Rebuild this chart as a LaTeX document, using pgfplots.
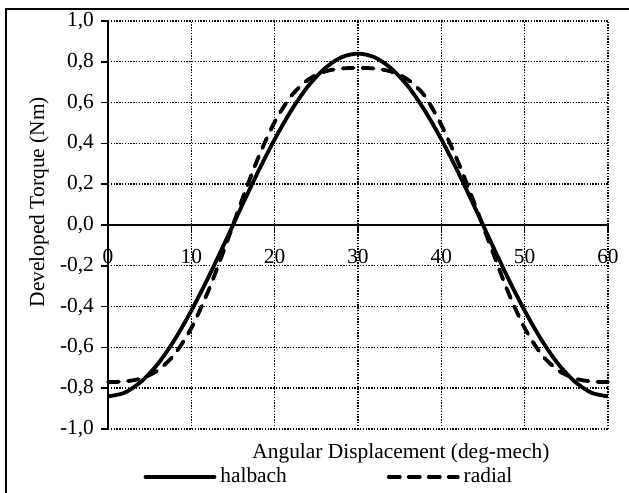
\documentclass[border=0pt]{standalone}
\usepackage{fontspec}
\setmainfont{Liberation Serif}
\usepackage{pgfplots}
\pgfplotsset{compat=1.18}
\newcommand{\chfont}{\fontsize{10.7}{12.8}\selectfont}
\begin{document}
\begin{tikzpicture}[font=\chfont]
\path[use as bounding box] (0,0) rectangle (314.5pt,246.5pt);
\draw[line width=1pt, black] (3pt,0) -- (3pt,242pt) -- (314.5pt,242pt);
\begin{axis}[
  at={(54pt,32pt)}, anchor=south west,
  width=250pt, height=204pt, scale only axis,
  xmin=0, xmax=60, ymin=-1, ymax=1,
  axis x line=middle, axis y line=left,
  hide obscured x ticks=false, hide obscured y ticks=false,
  axis line style={-, line width=0.9pt, black},
  xtick={0,10,20,30,40,50,60},
  xticklabels={0,10,20,30,40,50,60},
  ytick={-1,-0.8,-0.6,-0.4,-0.2,0,0.2,0.4,0.6,0.8,1},
  yticklabels={{-1,0},{-0,8},{-0,6},{-0,4},{-0,2},{0,0},{0,2},{0,4},{0,6},{0,8},{1,0}},
  grid=major,
  major grid style={black, line width=0.7pt, dash pattern=on 0.7pt off 0.7pt},
  tick align=outside, major tick length=3.5pt,
  tick style={black, line width=0.8pt},
  ticklabel style={font=\chfont},
  xticklabel style={anchor=north, yshift=-5pt},
  yticklabel style={anchor=east},
  label style={font=\chfont},
  xlabel={Angular Displacement (deg-mech)},
  ylabel={Developed Torque (Nm)},
  xlabel style={at={(axis description cs:0.586,-0.0588)}, anchor=center},
  ylabel style={at={(axis description cs:-0.138,0.556)}, anchor=center, rotate=0},
  clip=false,
  legend style={draw=none, fill=none, font=\chfont,
    at={(axis description cs:0.444,-0.1176)}, anchor=center,
    legend columns=2,
    /tikz/every even column/.append style={column sep=48pt}},
  legend image code/.code={\draw[#1, line cap=round] (0pt,0pt) -- (34.5pt,0pt);},
]
\addplot[black, line width=1.9pt, smooth] coordinates {
(0,-0.840)(2,-0.822)(4,-0.767)(6,-0.680)(8,-0.562)(10,-0.420)(12,-0.260)(14,-0.088)(16,0.088)(18,0.260)(20,0.420)(22,0.562)(24,0.680)(26,0.767)(28,0.822)(30,0.840)(32,0.822)(34,0.767)(36,0.680)(38,0.562)(40,0.420)(42,0.260)(44,0.088)(46,-0.088)(48,-0.260)(50,-0.420)(52,-0.562)(54,-0.680)(56,-0.767)(58,-0.822)(60,-0.840)
};
\addlegendentry{halbach}
\addplot[black, line width=1.9pt, smooth, line cap=round, dash pattern=on 5.5pt off 4.5pt] coordinates {
(0,-0.770)(2,-0.767)(4,-0.752)(6,-0.712)(8,-0.633)(10,-0.505)(12,-0.327)(14,-0.114)(16,0.114)(18,0.327)(20,0.505)(22,0.633)(24,0.712)(26,0.752)(28,0.767)(30,0.770)(32,0.767)(34,0.752)(36,0.712)(38,0.633)(40,0.490)(42,0.310)(44,0.104)(46,-0.114)(48,-0.327)(50,-0.505)(52,-0.633)(54,-0.712)(56,-0.752)(58,-0.767)(60,-0.770)
};
\addlegendentry{radial}
\end{axis}
\end{tikzpicture}
\end{document}
